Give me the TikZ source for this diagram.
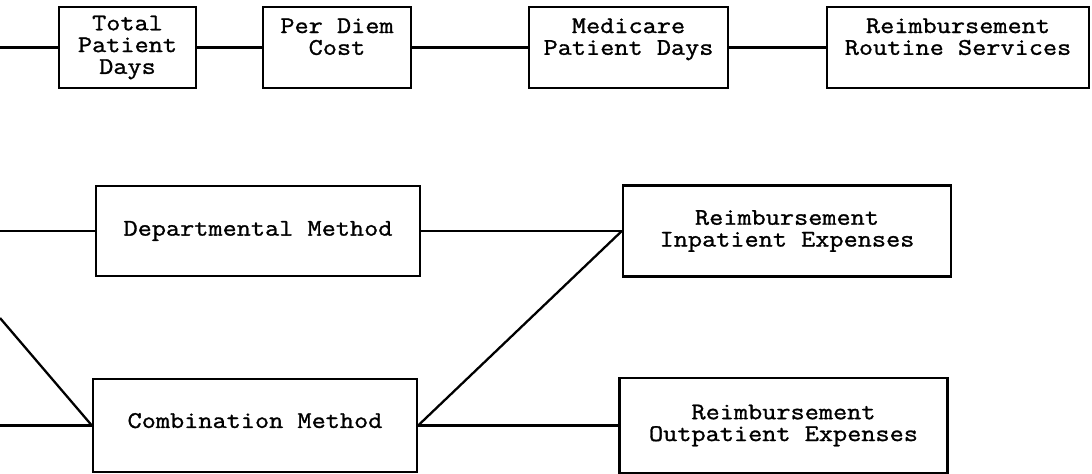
\documentclass[tikz,border=0pt]{standalone}
\usepackage{fontspec}
\setmonofont[FakeBold=1.2, FakeStretch=1.15]{Latin Modern Mono}
\usetikzlibrary{positioning}

\begin{document}
\begin{tikzpicture}
    [
        auto,
        box/.style={draw, line width=1.3pt, align=center, inner sep=0pt,
            font=\ttfamily\fontsize{13.6}{12.4}\selectfont},
        topbox/.style={box, minimum height=1.62cm},
        methodbox/.style={box, minimum width=6.48cm},
        reimbox/.style={box, minimum width=6.56cm}
    ]
    \tikzstyle{line} = [draw, line width=1.3pt]

    \useasboundingbox (0,0) rectangle (21.84,-9.48);

    % Routine services
    \begin{scope}
        \coordinate (in_top) at (0,-0.95);
        \node[topbox, minimum width=2.74cm] (total) at (2.55,-0.95) {Total\\Patient\\Days};
        \node[topbox, minimum width=2.96cm, right of=total, node distance=4.19cm] (per_diem) {Per Diem\\Cost\\\mbox{}};
        \node[topbox, minimum width=3.98cm, right of=per_diem, node distance=5.83cm] (medicare_days) {Medicare\\Patient Days\\\mbox{}};
        \node[topbox, minimum width=5.24cm, right of=medicare_days, node distance=6.59cm] (reimb_routine) {Reimbursement\\Routine Services\\\mbox{}};

        \path[line] (in_top) edge (total);
        \path[line] (total) edge (per_diem);
        \path[line] (per_diem) edge (medicare_days);
        \path[line] (medicare_days) edge (reimb_routine);
    \end{scope}

    % Ancillary services
    \begin{scope}
        \coordinate (in_dep) at (0,-4.62);
        \coordinate (in_diag) at (0,-6.36);
        \coordinate (in_comb) at (0,-8.51);
        \node[methodbox, minimum height=1.8cm] (departmental) at (5.16,-4.62) {Departmental Method};
        \node[methodbox, minimum height=1.86cm, text depth=0.2cm] (combination) at (5.10,-8.51) {Combination Method};
        \node[reimbox, minimum height=1.82cm, right of=departmental, node distance=10.58cm] (reimb_inpatient) {Reimbursement\\Inpatient Expenses};
        \node[reimbox, minimum height=1.9cm, right of=combination, node distance=10.57cm] (reimb_outpatient) {Reimbursement\\Outpatient Expenses};

        \path[line] (in_dep) edge (departmental);
        \path[line] (in_diag) edge (combination.west);
        \path[line] (in_comb) edge (combination);
        \path[line] (departmental) edge (reimb_inpatient);
        \path[line] (combination.east) edge (reimb_inpatient.west);
        \path[line] (combination) edge (reimb_outpatient);
    \end{scope}

\end{tikzpicture}
\end{document}
